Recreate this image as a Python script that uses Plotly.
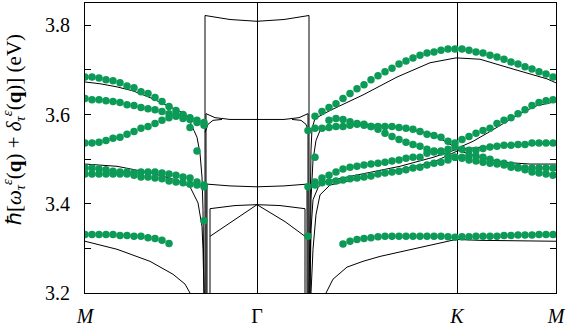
import plotly.graph_objects as go

# ---------------- axes ----------------
K_TICKS = [0.0, 0.86, 1.86, 2.355]
K_LABELS = ["<i>M</i>", "Γ", "<i>K</i>", "<i>M</i>"]
Y_TICKS = [3.2, 3.4, 3.6, 3.8]
Y_LABELS = ["3.2", "3.4", "3.6", "3.8"]
Y_TITLE = ("ℏ[<i>ω</i><sub><i>τ</i></sub><sup><i>ε</i></sup>(<b>q</b>) + "
           "<i>δ</i><sub><i>τ</i></sub><sup><i>ε</i></sup>(<b>q</b>)] (eV)")

# ---------------- q grids of the measured points ----------------
QL = [0.0, 0.035, 0.07, 0.105, 0.14, 0.175, 0.21, 0.245, 0.28, 0.315, 0.35,
      0.385, 0.42, 0.455, 0.49, 0.525, 0.56, 0.595]
QR_GK = [1.115, 1.15, 1.185, 1.22, 1.255, 1.29, 1.325, 1.36, 1.395, 1.43, 1.465,
         1.5, 1.535, 1.57, 1.605, 1.64, 1.675, 1.71, 1.745, 1.78, 1.815, 1.85]
QR_KM = [1.885, 1.92, 1.955, 1.99, 2.025, 2.06, 2.095, 2.13, 2.165, 2.2, 2.235,
         2.27, 2.305, 2.34]

# ---------------- measured (green dots), M -> Gamma ----------------
A_Y = [3.684, 3.684, 3.682, 3.678, 3.676, 3.671, 3.664, 3.660, 3.651, 3.647,
       3.638, 3.629, 3.618, 3.609, 3.600, 3.593, 3.587, 3.582]
B_Y = [3.636, 3.633, 3.633, 3.631, 3.629, 3.627, 3.622, 3.620, 3.616, 3.613,
       3.611, 3.607, 3.602, 3.600, 3.591, 3.589, 3.582, 3.576]
C_Y = [3.536, 3.536, 3.538, 3.542, 3.547, 3.549, 3.556, 3.562, 3.569, 3.573,
       3.580, 3.587, 3.593, 3.596, 3.598, 3.571, 3.518, 3.362]
D_Y = [3.480, 3.480, 3.478, 3.476, 3.473, 3.471, 3.471, 3.469, 3.471, 3.471,
       3.471, 3.469, 3.467, 3.464, 3.460, 3.458, 3.449, 3.442]
E_Y = [3.467, 3.467, 3.467, 3.467, 3.467, 3.467, 3.467, 3.464, 3.460, 3.460,
       3.458, 3.456, 3.451, 3.449, 3.447, 3.444, 3.442, 3.438]
F_Y = [3.331, 3.331, 3.331, 3.331, 3.331, 3.329, 3.329, 3.327, 3.327, 3.324,
       3.322, 3.318, 3.311]

# ---------------- measured, Gamma -> K -> M ----------------
TOP_Y = [3.596, 3.607, 3.616, 3.624, 3.636, 3.647, 3.658, 3.667, 3.678, 3.687,
         3.696, 3.704, 3.713, 3.720, 3.727, 3.733, 3.738, 3.740, 3.744, 3.747,
         3.747, 3.747, 3.744, 3.740, 3.738, 3.733, 3.729, 3.724, 3.718, 3.713,
         3.707, 3.702, 3.696, 3.691, 3.684]
GK2_Y = [3.587, 3.591, 3.589, 3.584, 3.580, 3.578, 3.573, 3.567, 3.558, 3.551,
         3.544, 3.538, 3.533, 3.529, 3.522, 3.518, 3.516, 3.509, 3.504]
GK3_Y = [3.564, 3.569, 3.569, 3.571, 3.573, 3.573, 3.576, 3.578, 3.576, 3.573,
         3.573, 3.573, 3.573, 3.571, 3.569, 3.567, 3.562, 3.556, 3.553, 3.549,
         3.540, 3.536]
GK4_Y = [3.449, 3.458, 3.464, 3.471, 3.478, 3.482, 3.484, 3.487, 3.489, 3.491,
         3.493, 3.496, 3.498, 3.502, 3.504, 3.504, 3.513, 3.516, 3.518, 3.522,
         3.527]
GK5_Y = [3.438, 3.442, 3.447, 3.449, 3.451, 3.453, 3.456, 3.458, 3.460, 3.462,
         3.467, 3.469, 3.471, 3.473, 3.476, 3.480, 3.482, 3.487, 3.491, 3.493,
         3.498, 3.504]
BOT_Y = [3.310, 3.316, 3.320, 3.322, 3.324, 3.326, 3.327, 3.327, 3.327, 3.327,
         3.327, 3.327, 3.327, 3.327, 3.327, 3.326, 3.325, 3.326, 3.326, 3.327,
         3.327, 3.327, 3.327, 3.329, 3.329, 3.330, 3.330, 3.330, 3.331, 3.331,
         3.331]
KM1_Y = [3.544, 3.551, 3.558, 3.564, 3.569, 3.580, 3.587, 3.593, 3.602, 3.611,
         3.620, 3.627, 3.631, 3.633]
KM2_Y = [3.522, 3.520, 3.520, 3.524, 3.527, 3.529, 3.531, 3.531, 3.533, 3.533,
         3.536, 3.536, 3.536, 3.536]
KM3_Y = [3.504, 3.509, 3.507, 3.504, 3.500, 3.493, 3.491, 3.487, 3.482, 3.480,
         3.480, 3.480, 3.480, 3.480]
KM4_Y = [3.502, 3.498, 3.496, 3.493, 3.491, 3.489, 3.487, 3.482, 3.480, 3.476,
         3.471, 3.469, 3.467, 3.464]
ISO_X = [1.15, 1.115]
ISO_Y = [3.504, 3.327]

# ---------------- theory (black lines) ----------------
LL1_X = [0, 0.075, 0.16, 0.24, 0.325, 0.41, 0.475, 0.505, 0.525, 0.545, 0.56,
         0.575, 0.585, 0.59, 0.595, 0.595]
LL1_Y = [3.673, 3.669, 3.662, 3.653, 3.638, 3.620, 3.607, 3.598, 3.584, 3.564,
         3.549, 3.513, 3.460, 3.387, 3.276, 3.2]
LL2_X = [0, 0.16, 0.33, 0.46, 0.525, 0.565, 0.585, 0.59, 0.595]
LL2_Y = [3.489, 3.484, 3.469, 3.453, 3.438, 3.402, 3.349, 3.298, 3.2]
LL3_X = [0, 0.16, 0.325, 0.44, 0.5, 0.525]
LL3_Y = [3.316, 3.298, 3.271, 3.242, 3.220, 3.2]

GB1_X = [0.6, 0.6, 0.725, 0.86, 0.995, 1.12, 1.12]
GB1_Y = [3.2, 3.822, 3.813, 3.809, 3.813, 3.822, 3.2]
GB2_X = [0.605, 0.605, 0.65, 0.725, 0.86, 0.995, 1.07, 1.115, 1.115]
GB2_Y = [3.2, 3.602, 3.593, 3.589, 3.589, 3.589, 3.593, 3.602, 3.2]
GB3L_X = [0.6, 0.615, 0.64, 0.685]
GB3L_Y = [3.560, 3.578, 3.587, 3.589]
GB3R_X = [1.035, 1.08, 1.105, 1.12]
GB3R_Y = [3.589, 3.587, 3.578, 3.560]
GB4_X = [0.61, 0.61, 0.725, 0.86, 0.995, 1.11, 1.11]
GB4_Y = [3.2, 3.444, 3.440, 3.438, 3.440, 3.444, 3.2]
GB5_X = [0.625, 0.625, 0.75, 0.86, 0.975, 1.1, 1.1]
GB5_Y = [3.2, 3.389, 3.396, 3.398, 3.396, 3.389, 3.2]
GB6_X = [0.625, 0.725, 0.86, 1.0, 1.1]
GB6_Y = [3.327, 3.358, 3.398, 3.360, 3.327]

RL1_X = [1.12, 1.125, 1.13, 1.135, 1.15, 1.225, 1.39, 1.56, 1.725, 1.855,
         1.975, 2.14, 2.31, 2.355]
RL1_Y = [3.2, 3.409, 3.52, 3.569, 3.591, 3.609, 3.644, 3.684, 3.716, 3.727,
         3.724, 3.702, 3.680, 3.671]
RL2_X = [1.125, 1.13, 1.14, 1.155, 1.175, 1.24, 1.41, 1.575, 1.74, 1.86]
RL2_Y = [3.2, 3.409, 3.498, 3.542, 3.564, 3.573, 3.578, 3.571, 3.556, 3.524]
RL3_X = [1.125, 1.13, 1.14, 1.165, 1.19, 1.41, 1.575, 1.74, 1.86]
RL3_Y = [3.2, 3.342, 3.409, 3.436, 3.449, 3.469, 3.484, 3.504, 3.522]
RL4_X = [1.13, 1.14, 1.155, 1.175, 1.225, 1.41, 1.575, 1.74, 1.86]
RL4_Y = [3.2, 3.298, 3.376, 3.420, 3.442, 3.460, 3.476, 3.493, 3.518]
RL5_X = [1.205, 1.24, 1.31, 1.39, 1.475, 1.64, 1.855, 1.975, 2.355]
RL5_Y = [3.2, 3.231, 3.258, 3.271, 3.282, 3.298, 3.320, 3.318, 3.316]
KL1_X = [1.86, 1.94, 2.01, 2.09, 2.175, 2.26, 2.355]
KL1_Y = [3.524, 3.540, 3.558, 3.580, 3.602, 3.620, 3.629]
KL2_X = [1.86, 2.09, 2.355]
KL2_Y = [3.522, 3.531, 3.536]
KL3_X = [1.86, 1.975, 2.09, 2.225, 2.355]
KL3_Y = [3.520, 3.504, 3.493, 3.489, 3.489]

LINES = [(LL1_X, LL1_Y), (LL2_X, LL2_Y), (LL3_X, LL3_Y),
         (GB1_X, GB1_Y), (GB2_X, GB2_Y), (GB3L_X, GB3L_Y), (GB3R_X, GB3R_Y),
         (GB4_X, GB4_Y), (GB5_X, GB5_Y), (GB6_X, GB6_Y),
         (RL1_X, RL1_Y), (RL2_X, RL2_Y), (RL3_X, RL3_Y), (RL4_X, RL4_Y),
         (RL5_X, RL5_Y), (KL1_X, KL1_Y), (KL2_X, KL2_Y), (KL3_X, KL3_Y)]

DOTS = [(QL, A_Y), (QL, B_Y), (QL, C_Y), (QL, D_Y), (QL, E_Y), (QL[:13], F_Y),
        (QR_GK[1:] + QR_KM, TOP_Y), (QR_GK[3:], GK2_Y), (QR_GK, GK3_Y),
        (QR_GK[1:], GK4_Y), (QR_GK, GK5_Y), (QR_GK[5:] + QR_KM, BOT_Y),
        (QR_KM, KM1_Y), (QR_KM, KM2_Y), (QR_KM, KM3_Y), (QR_KM, KM4_Y),
        (ISO_X, ISO_Y)]

GREEN = "#0c9a57"
FONT = "Liberation Serif"

fig = go.Figure()
for xs, ys in LINES:
    fig.add_trace(go.Scatter(x=xs, y=ys, mode="lines",
                             line=dict(color="black", width=1),
                             hoverinfo="skip", showlegend=False))
for xs, ys in DOTS:
    fig.add_trace(go.Scatter(x=xs, y=ys, mode="markers",
                             marker=dict(color=GREEN, size=7.5, line=dict(width=0)),
                             showlegend=False))

fig.update_layout(
    width=571, height=329,
    margin=dict(l=85, r=15, t=2, b=35),
    paper_bgcolor="white", plot_bgcolor="white",
    font=dict(family=FONT, color="black"),
    showlegend=False,
    annotations=[dict(text=Y_TITLE, textangle=-90, showarrow=False,
                      xref="paper", yref="paper", x=-0.153, y=0.565,
                      xanchor="center", yanchor="middle",
                      font=dict(size=21, family=FONT, color="black"))],
)
fig.update_xaxes(
    range=[0, 2.355], tickvals=K_TICKS, ticktext=K_LABELS,
    ticks="", showgrid=True, gridcolor="black", gridwidth=1,
    showline=True, linecolor="black", linewidth=1, mirror=True,
    zeroline=False, tickfont=dict(size=20, family=FONT),
    ticklabelstandoff=5,
)
fig.update_yaxes(
    range=[3.2, 3.85], tickvals=Y_TICKS, ticktext=Y_LABELS,
    ticks="inside", ticklen=6, tickcolor="black",
    minor=dict(dtick=0.1, ticks="inside", ticklen=6, tickcolor="black", showgrid=False),
    showgrid=False, showline=True, linecolor="black", linewidth=1, mirror="ticks",
    zeroline=False, tickfont=dict(size=20, family=FONT),
    ticklabelstandoff=10,
)

fig.write_html("out.html")
